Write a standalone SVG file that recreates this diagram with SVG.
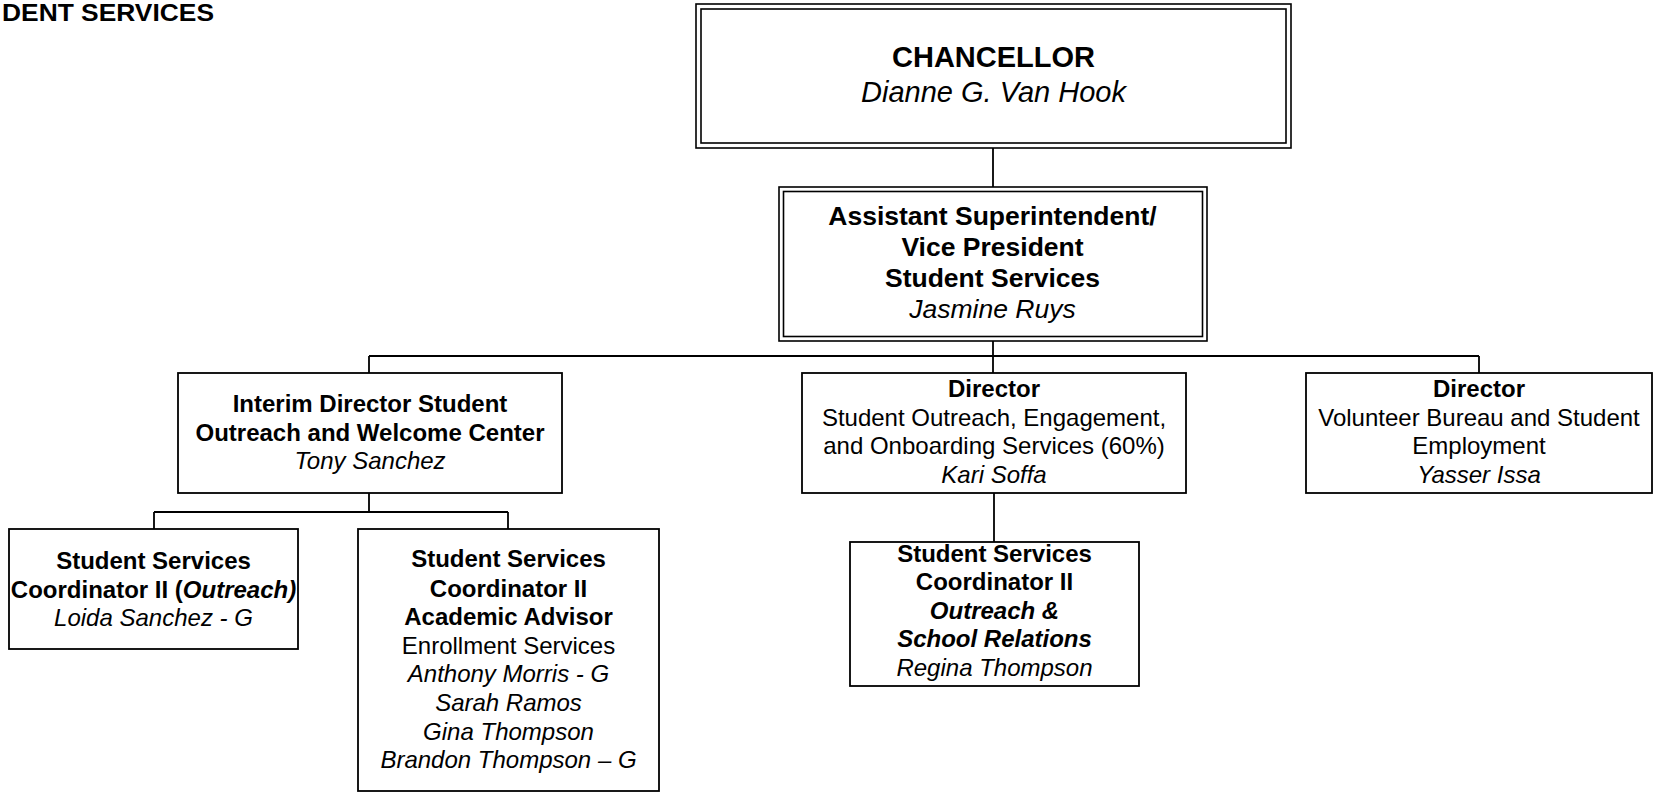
<svg xmlns="http://www.w3.org/2000/svg" width="1653" height="793" viewBox="0 0 1653 793">
<style>
text{font-family:"Liberation Sans",Arial,sans-serif;fill:#000;text-anchor:middle}
.b{font-weight:bold}
.i{font-style:italic}
.box{fill:#fff;stroke:#000;stroke-width:1.8}
.dbl{fill:none;stroke:#000;stroke-width:1.6}
.ln{stroke:#000;stroke-width:1.8;fill:none}
.f29{font-size:29px}
.f26{font-size:26.5px}
.f24{font-size:24px}
</style>
<rect width="1653" height="793" fill="#fff"/>
<text x="2" y="21" class="b" style="text-anchor:start;font-size:23px" textLength="212" lengthAdjust="spacingAndGlyphs">DENT SERVICES</text>
<g id="connectors">
<path class="ln" d="M993 148V187"/>
<path class="ln" d="M993 341V356M369 356H1479M369 356V373M993 356V373M1479 356V373"/>
<path class="ln" d="M369 493V512M154 512H508M154 512V529M508 512V529"/>
<path class="ln" d="M994 493V542"/>
</g>
<g id="chancellor">
<rect class="dbl" x="696" y="4" width="595" height="144"/>
<rect class="dbl" x="701" y="9" width="585" height="134"/>
<text x="993.5" y="67" class="b f29">CHANCELLOR</text>
<text x="993.5" y="102" class="i f29">Dianne G. Van Hook</text>
</g>
<g id="asst-supt">
<rect class="dbl" x="779" y="187" width="428" height="154"/>
<rect class="dbl" x="783.5" y="191.5" width="419" height="145"/>
<text x="992.5" y="225" class="b f26">Assistant Superintendent/</text>
<text x="992.5" y="256" class="b f26">Vice President</text>
<text x="992.5" y="287" class="b f26">Student Services</text>
<text x="992.5" y="318" class="i f26">Jasmine Ruys</text>
</g>
<g id="interim-director">
<rect class="box" x="178" y="373" width="384" height="120"/>
<text x="370" y="412" class="b f24">Interim Director Student</text>
<text x="370" y="441" class="b f24">Outreach and Welcome Center</text>
<text x="370" y="469" class="i f24">Tony Sanchez</text>
</g>
<g id="director-outreach">
<rect class="box" x="802" y="373" width="384" height="120"/>
<text x="994" y="397" class="b f24">Director</text>
<text x="994" y="426" class="f24">Student Outreach, Engagement,</text>
<text x="994" y="454" class="f24">and Onboarding Services (60%)</text>
<text x="994" y="483" class="i f24">Kari Soffa</text>
</g>
<g id="director-volunteer">
<rect class="box" x="1306" y="373" width="346" height="120"/>
<text x="1479" y="397" class="b f24">Director</text>
<text x="1479" y="426" class="f24">Volunteer Bureau and Student</text>
<text x="1479" y="454" class="f24">Employment</text>
<text x="1479" y="483" class="i f24">Yasser Issa</text>
</g>
<g id="coord-outreach">
<rect class="box" x="9" y="529" width="289" height="120"/>
<text x="153.5" y="569" class="b f24">Student Services</text>
<text x="153.5" y="598" class="b f24">Coordinator II (<tspan class="i">Outreach)</tspan></text>
<text x="153.5" y="626" class="i f24">Loida Sanchez - G</text>
</g>
<g id="coord-advisor">
<rect class="box" x="358" y="529" width="301" height="262"/>
<text x="508.5" y="567" class="b f24">Student Services</text>
<text x="508.5" y="597" class="b f24">Coordinator II</text>
<text x="508.5" y="625" class="b f24">Academic Advisor</text>
<text x="508.5" y="654" class="f24">Enrollment Services</text>
<text x="508.5" y="682" class="i f24">Anthony Morris - G</text>
<text x="508.5" y="711" class="i f24">Sarah Ramos</text>
<text x="508.5" y="740" class="i f24">Gina Thompson</text>
<text x="508.5" y="768" class="i f24">Brandon Thompson – G</text>
</g>
<g id="coord-school">
<rect class="box" x="850" y="542" width="289" height="144"/>
<text x="994.5" y="562" class="b f24">Student Services</text>
<text x="994.5" y="590" class="b f24">Coordinator II</text>
<text x="994.5" y="619" class="b i f24">Outreach &amp;</text>
<text x="994.5" y="647" class="b i f24">School Relations</text>
<text x="994.5" y="676" class="i f24">Regina Thompson</text>
</g>
</svg>
